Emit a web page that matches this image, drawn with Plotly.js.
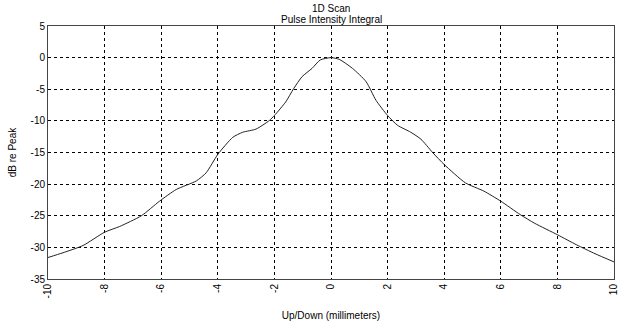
<!DOCTYPE html>
<html>
<head>
<meta charset="utf-8">
<script src="https://cdn.plot.ly/plotly-3.0.1.min.js"></script>
<style>html,body{margin:0;padding:0;background:#fff;}#plot{width:625px;height:324px;}</style>
</head>
<body>
<div id="plot"></div>
<script>
// Scan position (mm) and pulse intensity integral (dB relative to peak)
const positionMm = [-10, -9.47, -8.76, -8, -7.47, -6.7, -6.06, -5.47, -4.76, -4.41, -4, -3.47, -3.12, -2.65, -2.18, -2, -1.6, -1.32, -1.02, -0.67, -0.38, 0,
  0.29, 0.76, 1.24, 1.59, 2, 2.35, 2.82, 3.18, 3.59, 4, 4.75, 5.4, 6, 6.68, 7.2, 8, 8.68, 9.33, 10];
const dbRePeak = [-31.6, -30.85, -29.7, -27.6, -26.7, -25.0, -22.7, -20.85, -19.5, -18.2, -15.3, -12.6, -11.8, -11.3, -9.95, -9.15, -7.0, -4.9, -3.0, -1.7, -0.37, 0,
  -0.27, -1.7, -3.8, -6.75, -9.15, -10.7, -11.8, -12.9, -15.0, -16.9, -19.8, -21.1, -22.7, -24.8, -26.2, -28.0, -29.6, -31.0, -32.3];
const xTicks = [-10, -8, -6, -4, -2, 0, 2, 4, 6, 8, 10];
const yTicks = [5, 0, -5, -10, -15, -20, -25, -30, -35];
const titleLines = ['1D Scan', 'Pulse Intensity Integral'];

const font = {family: 'Liberation Sans, Arial, sans-serif', size: 10, color: '#000'};

const axisCommon = {
  showline: true, mirror: true, linecolor: '#444', linewidth: 1,
  showgrid: true, gridcolor: '#000', gridwidth: 1, griddash: '3px,3px',
  zeroline: false, ticks: '', tickfont: font, fixedrange: true
};

// Two-line heading centred over the plot area
const titleAnnotations = titleLines.map((t, i) => ({
  text: t, xref: 'x', yref: 'paper', x: 0, y: 1, yshift: 11 - i * 11,
  xanchor: 'center', yanchor: 'bottom', showarrow: false, font: font, borderpad: 0
}));

Plotly.newPlot('plot', [{
  x: positionMm, y: dbRePeak, type: 'scatter', mode: 'lines',
  line: {color: '#222', width: 1, shape: 'spline', smoothing: 0.6},
  hoverinfo: 'skip'
}], {
  width: 625, height: 324,
  margin: {l: 48, r: 11, t: 26, b: 45, pad: 0},
  paper_bgcolor: '#fff', plot_bgcolor: '#fff',
  showlegend: false,
  font: font,
  annotations: titleAnnotations,
  xaxis: Object.assign({}, axisCommon, {
    range: [-10, 10], tickvals: xTicks, ticktext: xTicks.map(String), tickangle: -90,
    title: {text: 'Up/Down (millimeters)', font: font, standoff: 14}, automargin: false
  }),
  yaxis: Object.assign({}, axisCommon, {
    range: [-35, 5], tickvals: yTicks, ticktext: yTicks.map(String),
    title: {text: 'dB re Peak', font: font, standoff: 12}, automargin: false
  })
}, {staticPlot: true});
</script>
</body>
</html>
